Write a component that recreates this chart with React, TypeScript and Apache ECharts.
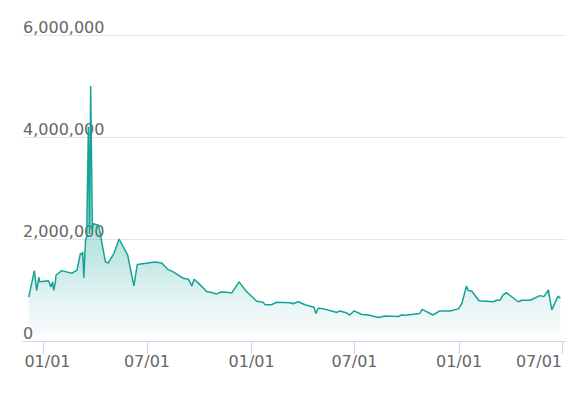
import React, { useEffect, useRef } from "react";
import * as echarts from "echarts";

const dates: string[] = [
  "2019-12-06", "2019-12-16", "2019-12-20", "2019-12-24", "2019-12-25",
  "2020-01-10", "2020-01-14", "2020-01-17", "2020-01-19", "2020-01-22",
  "2020-01-23", "2020-02-02", "2020-02-20", "2020-02-29", "2020-03-06",
  "2020-03-09", "2020-03-10", "2020-03-12", "2020-03-15", "2020-03-17",
  "2020-03-20", "2020-03-22", "2020-03-24", "2020-03-27", "2020-03-29",
  "2020-04-07", "2020-04-19", "2020-04-24", "2020-05-04", "2020-05-13",
  "2020-05-28", "2020-06-08", "2020-06-14", "2020-07-15", "2020-07-27",
  "2020-08-06", "2020-08-17", "2020-09-03", "2020-09-12", "2020-09-18",
  "2020-09-22", "2020-09-30", "2020-10-14", "2020-10-23", "2020-10-31",
  "2020-11-08", "2020-11-18", "2020-11-27", "2020-12-10", "2020-12-23",
  "2021-01-10", "2021-01-21", "2021-01-25", "2021-02-05", "2021-02-14",
  "2021-03-10", "2021-03-15", "2021-03-24", "2021-04-05", "2021-04-21",
  "2021-04-24", "2021-04-28", "2021-05-07", "2021-05-22", "2021-05-31",
  "2021-06-05", "2021-06-15", "2021-06-23", "2021-06-30", "2021-07-14",
  "2021-07-26", "2021-08-12", "2021-08-24", "2021-09-16", "2021-09-22",
  "2021-09-28", "2021-10-24", "2021-10-28", "2021-11-16", "2021-11-28",
  "2021-12-16", "2021-12-31", "2022-01-06", "2022-01-14", "2022-01-17",
  "2022-01-23", "2022-02-05", "2022-03-02", "2022-03-08", "2022-03-14",
  "2022-03-19", "2022-03-25", "2022-04-15", "2022-04-21", "2022-05-06",
  "2022-05-23", "2022-05-30", "2022-06-07", "2022-06-13", "2022-06-24",
  "2022-06-28",
];

const values: number[] = [
  860000, 1380000, 990000, 1250000, 1160000,
  1180000, 1060000, 1160000, 990000, 1160000,
  1290000, 1380000, 1330000, 1390000, 1720000,
  1690000, 1750000, 1240000, 1980000, 2050000,
  4200000, 2100000, 5000000, 2200000, 2300000,
  2270000, 1550000, 1530000, 1720000, 2000000,
  1690000, 1080000, 1500000, 1550000, 1530000,
  1410000, 1350000, 1230000, 1210000, 1080000,
  1210000, 1130000, 970000, 950000, 920000,
  960000, 955000, 940000, 1160000, 970000,
  780000, 760000, 710000, 710000, 760000,
  750000, 730000, 770000, 710000, 660000,
  540000, 640000, 630000, 590000, 560000,
  590000, 560000, 510000, 590000, 520000,
  510000, 460000, 490000, 480000, 510000,
  505000, 540000, 620000, 510000, 590000,
  590000, 630000, 740000, 1080000, 990000,
  980000, 790000, 770000, 800000, 800000,
  900000, 950000, 770000, 800000, 800000,
  890000, 870000, 1000000, 610000, 880000,
  840000,
];

const xTickDates: string[] = [
  "2020-01-01", "2020-07-01", "2021-01-01", "2021-07-01", "2022-01-01", "2022-07-01",
];

const yTicks: number[] = [0, 2000000, 4000000, 6000000];

const X_MIN = "2019-11-26";
const X_MAX = "2022-07-08";

function ts(d: string): number {
  return new Date(d + "T00:00:00Z").getTime();
}

export default function App() {
  const ref = useRef<HTMLDivElement>(null);

  useEffect(() => {
    if (!ref.current) return;
    const chart = echarts.init(ref.current, null, { renderer: "svg" });
    const pad = (n: number) => (n < 10 ? "0" + n : "" + n);
    const tickVals = xTickDates.map(ts);
    const labelFont = {
      color: "#666666",
      fontSize: 16,
      fontFamily: "DejaVu Sans",
    };
    chart.setOption({
      animation: false,
      grid: { left: 23, right: 10, top: 35, bottom: 54, outerBoundsMode: "none", containLabel: false },
      xAxis: {
        type: "value",
        min: ts(X_MIN),
        max: ts(X_MAX),
        axisLine: { show: true, lineStyle: { color: "#ccd6eb", width: 1 } },
        axisTick: {
          show: true,
          length: 13,
          lineStyle: { color: "#ccd6eb" },
          customValues: tickVals,
        },
        axisLabel: {
          customValues: tickVals,
          formatter: (v: number) => {
            const d = new Date(v);
            const s = pad(d.getUTCMonth() + 1) + "/" + pad(d.getUTCDate());
            if (v === tickVals[0]) return "{first|" + s + "}";
            return s;
          },
          ...labelFont,
          margin: 12,
          showMinLabel: true,
          showMaxLabel: true,
          alignMaxLabel: "right",
          rich: {
            first: { ...labelFont, padding: [0, 0, 0, 8] },
          },
        },
        splitLine: { show: false },
      },
      yAxis: {
        type: "value",
        min: 0,
        max: 6000000,
        interval: 2000000,
        axisLine: { show: false },
        axisTick: { show: false },
        axisLabel: {
          inside: true,
          verticalAlign: "bottom",
          margin: 0,
          ...labelFont,
          lineHeight: 16,
          formatter: (v: number) => {
            if (yTicks.indexOf(v) < 0) return "";
            return v.toLocaleString("en-US");
          },
        },
        splitLine: { show: true, lineStyle: { color: "#e6e6e6", width: 1 } },
      },
      series: [
        {
          type: "line",
          data: dates.map((d, i) => [ts(d), values[i]]),
          showSymbol: false,
          symbol: "none",
          lineStyle: { color: "#14a396", width: 1.5 },
          itemStyle: { color: "#14a396" },
          areaStyle: {
            color: new echarts.graphic.LinearGradient(0, 0, 0, 1, [
              { offset: 0, color: "rgba(22,164,151,0.85)" },
              { offset: 0.68, color: "rgba(22,164,151,0.37)" },
              { offset: 0.85, color: "rgba(22,164,151,0.15)" },
              { offset: 1, color: "rgba(22,164,151,0.02)" },
            ]),
          },
        },
      ],
    });
    return () => chart.dispose();
  }, []);

  return (
    <div
      ref={ref}
      style={{ position: "absolute", left: 0, top: 0, width: 576, height: 395 }}
    />
  );
}
